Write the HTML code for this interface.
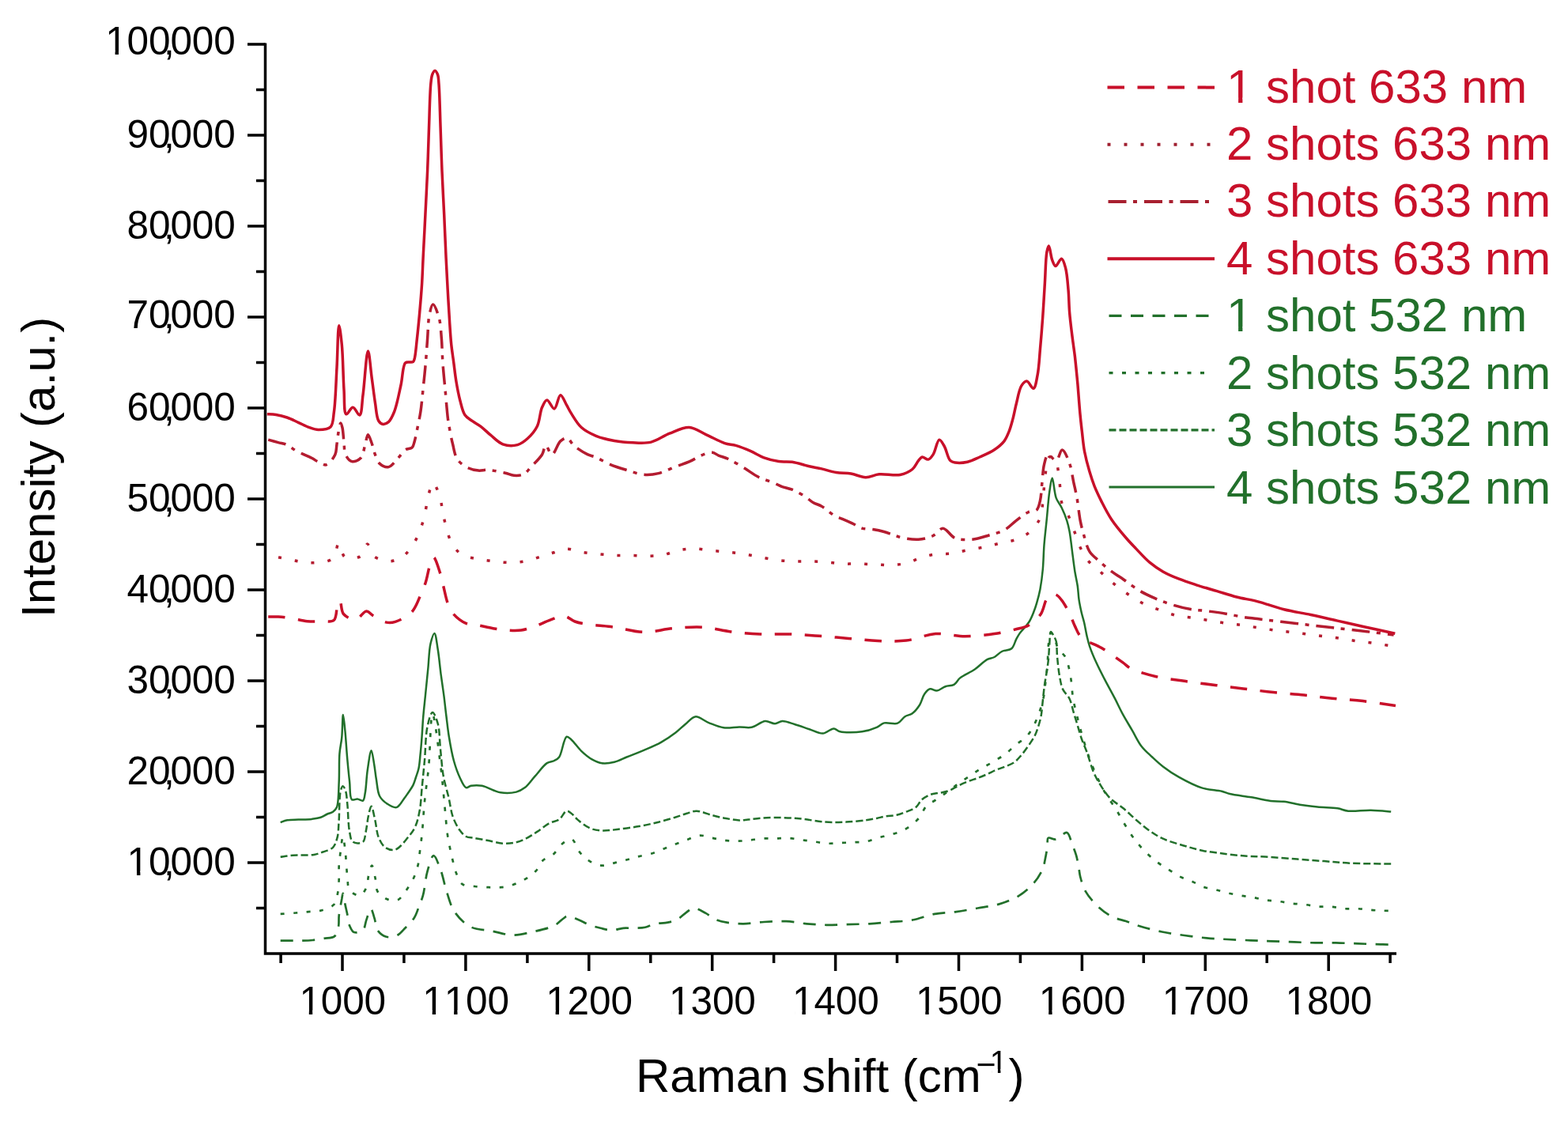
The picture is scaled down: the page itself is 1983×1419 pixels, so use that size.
<!DOCTYPE html>
<html><head><meta charset="utf-8"><title>Raman spectra</title>
<style>html,body{margin:0;padding:0;background:#fff;}svg{display:block;}</style>
</head><body>
<svg width="1983" height="1419" viewBox="0 0 1983 1419">
<rect width="100%" height="100%" fill="#fff"/>
<path d="M354.7,1189.7 C357.1,1189.7 364.2,1189.7 368.8,1189.7 C373.1,1189.7 377.2,1189.8 381.5,1189.7 C386.1,1189.6 390.9,1189.5 395.6,1189.0 C400.3,1188.5 405.1,1187.7 409.7,1186.9 C414.2,1186.1 420.0,1186.6 423.1,1184.1 C426.1,1181.6 427.1,1176.3 428.0,1172.1 C429.0,1167.7 428.1,1163.2 428.7,1158.0 C429.4,1151.6 431.3,1142.0 432.3,1136.8 C432.8,1133.8 433.2,1129.8 433.7,1129.8 C434.5,1129.8 435.5,1139.3 436.5,1143.9 C437.4,1148.2 438.4,1152.3 439.3,1156.6 C440.3,1161.2 440.4,1166.7 442.1,1170.7 C443.5,1174.0 445.1,1178.1 447.8,1179.1 C450.7,1180.2 456.4,1178.7 459.0,1176.3 C461.8,1173.7 461.7,1167.9 463.3,1163.6 C465.0,1159.0 467.1,1149.5 468.9,1149.5 C470.6,1149.5 472.4,1157.8 473.8,1162.2 C475.2,1166.7 474.8,1172.5 477.3,1176.3 C479.8,1180.0 484.5,1183.7 488.6,1184.8 C492.5,1185.9 497.4,1185.1 501.3,1183.4 C505.5,1181.6 508.9,1177.2 512.6,1173.5 C516.5,1169.6 521.1,1165.2 524.0,1160.5 C526.8,1156.0 528.1,1150.8 530.0,1146.0 C531.8,1141.3 533.5,1137.7 535.0,1132.1 C537.2,1124.1 538.0,1111.1 540.5,1102.2 C542.6,1094.8 545.5,1082.3 548.3,1082.2 C551.0,1082.1 554.6,1093.3 557.2,1100.0 C560.3,1108.1 561.9,1118.7 564.9,1127.7 C567.8,1136.5 569.9,1145.8 574.9,1153.2 C579.9,1160.6 587.0,1168.0 594.9,1172.1 C602.9,1176.2 613.6,1175.8 622.6,1177.6 C631.3,1179.3 639.5,1182.5 648.1,1182.6 C656.9,1182.7 666.0,1180.2 674.8,1178.2 C683.7,1176.2 694.8,1173.8 701.4,1170.4 C706.0,1168.0 708.9,1164.1 712.0,1162.0 C714.2,1160.5 715.5,1158.7 718.0,1158.5 C721.6,1158.2 727.0,1161.4 731.6,1163.2 C736.4,1165.1 741.3,1168.1 746.1,1169.9 C750.6,1171.6 754.9,1172.7 759.4,1173.8 C764.1,1174.9 769.0,1176.5 773.8,1176.5 C778.6,1176.5 783.5,1174.2 788.2,1173.8 C792.7,1173.4 797.0,1174.0 801.5,1173.8 C806.2,1173.6 811.4,1173.7 816.0,1172.7 C820.3,1171.8 824.0,1169.1 828.2,1168.2 C832.5,1167.3 837.0,1167.9 841.5,1167.1 C846.2,1166.3 851.5,1165.4 855.9,1163.2 C860.4,1161.0 864.3,1156.4 868.1,1153.8 C871.2,1151.7 873.6,1148.8 877.0,1148.5 C881.4,1148.2 887.7,1152.4 892.5,1154.9 C896.9,1157.2 900.3,1160.8 904.7,1162.7 C909.2,1164.7 913.8,1165.7 919.1,1166.6 C925.3,1167.7 932.5,1168.3 939.8,1168.3 C948.1,1168.3 957.3,1166.5 966.2,1166.0 C975.4,1165.5 985.0,1164.8 994.1,1165.2 C1003.0,1165.6 1011.8,1167.5 1020.4,1168.3 C1028.8,1169.0 1036.8,1169.7 1045.2,1169.8 C1053.9,1169.9 1062.7,1169.3 1071.6,1169.1 C1080.8,1168.8 1090.2,1168.8 1099.5,1168.3 C1108.8,1167.8 1118.2,1166.8 1127.4,1166.0 C1136.4,1165.2 1145.1,1165.1 1154.0,1163.5 C1163.3,1161.8 1172.8,1157.5 1182.2,1155.8 C1191.3,1154.1 1200.4,1154.3 1209.4,1153.1 C1218.5,1151.9 1227.6,1150.1 1236.6,1148.5 C1245.5,1146.9 1254.5,1146.1 1263.0,1143.6 C1271.5,1141.1 1280.1,1138.0 1287.5,1133.6 C1294.7,1129.2 1301.7,1123.4 1307.0,1117.3 C1312.0,1111.7 1316.5,1104.1 1318.8,1098.7 C1320.4,1094.9 1320.6,1092.4 1321.4,1088.5 C1322.5,1083.2 1324.0,1075.2 1324.7,1069.9 C1325.2,1066.0 1323.8,1061.2 1325.6,1059.8 C1327.4,1058.4 1332.2,1062.2 1335.7,1061.5 C1340.1,1060.6 1345.9,1052.0 1349.3,1053.0 C1352.7,1054.1 1354.0,1063.2 1356.0,1068.2 C1357.9,1072.8 1359.7,1077.0 1361.1,1081.8 C1362.6,1087.1 1363.6,1093.8 1364.5,1098.7 C1365.2,1102.5 1365.2,1105.0 1366.2,1108.8 C1367.6,1114.1 1369.4,1121.4 1372.9,1127.4 C1376.9,1134.4 1383.7,1142.1 1389.9,1147.7 C1395.5,1152.8 1401.9,1157.1 1408.0,1160.0 C1413.3,1162.6 1418.5,1163.2 1424.0,1165.0 C1429.8,1167.0 1435.3,1169.4 1442.0,1171.5 C1450.2,1174.0 1460.3,1176.6 1469.6,1178.5 C1478.9,1180.4 1488.4,1181.7 1497.8,1183.0 C1507.2,1184.3 1516.8,1185.5 1526.0,1186.3 C1534.8,1187.1 1543.1,1187.5 1552.0,1188.0 C1561.5,1188.5 1572.0,1188.9 1581.5,1189.3 C1590.5,1189.7 1598.7,1190.0 1607.7,1190.3 C1617.2,1190.7 1627.5,1191.0 1637.0,1191.4 C1645.9,1191.7 1654.3,1192.2 1663.0,1192.4 C1671.8,1192.6 1680.5,1192.2 1689.5,1192.4 C1698.8,1192.6 1708.3,1193.1 1717.7,1193.4 C1727.1,1193.7 1738.2,1194.2 1746.0,1194.4 C1751.5,1194.5 1757.7,1194.6 1760.0,1194.6" fill="none" stroke="#22702b" stroke-width="2.7" stroke-linejoin="round" stroke-linecap="butt" stroke-dasharray="16 11.5"/>
<path d="M354.7,1155.9 C358.0,1155.7 368.3,1155.0 374.5,1154.5 C380.0,1154.1 384.8,1153.6 390.0,1153.1 C395.2,1152.6 400.3,1153.0 405.5,1151.6 C411.1,1150.1 418.8,1148.0 422.4,1143.9 C425.8,1140.1 426.2,1133.7 427.3,1128.4 C428.4,1122.9 428.5,1117.1 428.7,1111.5 C428.9,1105.9 428.4,1100.3 428.7,1094.6 C429.0,1088.6 430.0,1082.3 430.8,1076.2 C431.6,1070.1 432.7,1058.0 433.7,1058.0 C434.6,1058.0 435.7,1068.4 436.5,1075.0 C437.7,1084.3 438.1,1099.4 439.3,1108.7 C440.1,1115.3 439.3,1121.6 442.1,1125.6 C444.7,1129.3 451.2,1133.2 454.8,1132.6 C458.2,1132.0 461.4,1126.7 463.3,1122.8 C465.4,1118.5 464.9,1112.2 466.1,1107.3 C467.2,1102.8 469.0,1094.6 470.3,1094.6 C471.8,1094.6 473.3,1104.8 474.5,1110.1 C475.7,1115.6 474.8,1122.5 477.3,1127.0 C479.7,1131.2 484.3,1134.9 488.6,1136.8 C492.8,1138.6 498.6,1139.9 502.7,1138.3 C507.2,1136.6 510.6,1130.3 514.0,1125.6 C517.7,1120.5 521.4,1114.4 523.9,1108.7 C526.2,1103.5 527.6,1098.6 528.8,1093.2 C530.1,1087.4 530.4,1081.2 531.2,1074.9 C532.0,1068.3 532.9,1062.6 533.7,1054.6 C534.9,1043.1 535.7,1026.4 537.1,1012.3 C538.5,998.2 540.6,985.7 542.1,970.0 C544.0,950.2 544.5,903.1 547.0,903.0 C549.6,902.9 554.7,949.2 557.4,970.0 C559.7,988.0 561.0,1005.5 562.5,1020.7 C563.7,1033.1 564.5,1045.0 565.8,1054.6 C566.8,1061.7 568.0,1067.3 569.2,1073.2 C570.3,1078.5 571.3,1083.3 572.6,1088.4 C573.9,1093.7 575.0,1099.4 577.1,1104.4 C579.1,1109.3 581.0,1115.5 584.9,1118.3 C588.8,1121.0 595.0,1120.4 600.4,1121.0 C606.1,1121.7 612.5,1122.0 618.2,1122.2 C623.5,1122.4 628.6,1122.8 633.7,1122.2 C638.9,1121.6 644.2,1120.5 649.2,1118.8 C654.2,1117.1 659.0,1115.0 663.7,1112.2 C668.7,1109.2 674.1,1105.3 678.1,1101.1 C681.8,1097.1 683.3,1091.2 687.0,1087.8 C690.4,1084.6 695.5,1084.2 699.2,1081.1 C703.3,1077.7 705.9,1071.4 710.0,1068.0 C713.8,1064.9 719.1,1060.2 722.8,1061.2 C727.2,1062.4 729.5,1073.6 733.6,1078.4 C737.3,1082.8 741.3,1086.6 746.0,1089.3 C750.6,1092.0 756.2,1094.4 761.5,1094.7 C767.0,1095.0 773.0,1092.2 778.6,1090.9 C783.9,1089.6 789.1,1088.3 794.1,1087.0 C798.9,1085.7 803.1,1084.3 808.0,1083.1 C813.4,1081.7 819.6,1080.9 825.1,1079.2 C830.5,1077.5 835.6,1075.0 840.6,1073.0 C845.4,1071.1 849.9,1069.4 854.5,1067.6 C859.2,1065.8 863.6,1064.0 868.5,1062.2 C873.7,1060.3 879.3,1057.1 884.8,1056.7 C890.2,1056.3 895.7,1058.8 901.0,1059.8 C906.3,1060.8 911.4,1062.3 916.6,1062.9 C921.8,1063.5 927.1,1063.7 932.1,1063.7 C936.9,1063.7 941.1,1063.4 946.0,1062.9 C951.4,1062.4 957.4,1060.9 963.1,1060.5 C968.8,1060.1 974.6,1060.6 980.1,1060.5 C985.4,1060.4 990.3,1059.6 995.6,1059.8 C1001.2,1060.0 1007.0,1061.3 1012.7,1062.1 C1018.4,1062.9 1024.0,1063.6 1029.7,1064.4 C1035.4,1065.2 1041.1,1066.4 1046.8,1066.7 C1052.5,1067.0 1058.1,1066.2 1063.8,1066.0 C1069.5,1065.7 1075.5,1065.5 1080.9,1065.2 C1085.8,1064.9 1090.3,1065.3 1095.0,1064.4 C1099.9,1063.5 1104.6,1061.2 1109.5,1059.8 C1114.3,1058.4 1119.2,1057.5 1124.0,1056.2 C1128.9,1054.8 1134.1,1053.6 1138.6,1051.7 C1142.8,1049.9 1146.6,1048.1 1150.4,1045.3 C1154.8,1042.2 1159.6,1037.8 1163.1,1033.5 C1166.5,1029.3 1167.7,1023.6 1171.2,1019.9 C1174.7,1016.2 1179.5,1014.4 1184.0,1011.3 C1189.1,1007.8 1195.1,1003.6 1200.0,1000.0 C1204.3,996.9 1207.8,994.0 1212.0,991.0 C1216.4,987.9 1221.1,984.9 1225.7,981.8 C1230.5,978.6 1235.3,975.3 1240.2,972.3 C1245.0,969.4 1249.8,967.1 1254.8,964.1 C1260.2,960.9 1266.6,957.3 1271.6,953.5 C1276.2,950.1 1279.6,946.2 1284.0,942.6 C1288.6,938.7 1294.7,935.5 1298.7,931.0 C1302.6,926.7 1305.3,921.5 1308.0,916.3 C1310.8,910.9 1313.0,905.0 1315.0,899.2 C1316.9,893.6 1318.5,887.9 1319.7,882.2 C1320.9,876.5 1321.2,871.3 1322.0,865.0 C1322.9,857.4 1324.0,848.3 1324.7,840.0 C1325.4,831.7 1325.1,822.2 1326.0,815.0 C1326.7,809.3 1327.4,800.3 1329.0,800.0 C1330.3,799.8 1332.6,805.0 1334.0,808.0 C1335.7,811.5 1335.9,816.3 1338.0,820.0 C1340.3,824.1 1345.2,826.9 1347.6,831.3 C1350.2,836.1 1351.3,842.5 1352.6,848.2 C1353.9,853.8 1354.5,859.4 1355.2,865.1 C1355.9,870.7 1355.9,876.0 1356.9,882.1 C1358.0,889.2 1360.0,896.9 1362.0,905.0 C1364.3,914.3 1367.0,925.0 1370.0,935.0 C1373.0,945.0 1376.0,954.9 1380.0,965.0 C1384.3,975.8 1389.5,987.8 1395.0,998.0 C1400.1,1007.5 1407.2,1016.8 1411.8,1024.3 C1415.2,1029.9 1417.5,1034.2 1420.3,1039.0 C1423.0,1043.6 1425.7,1048.0 1428.5,1052.3 C1431.2,1056.4 1433.7,1060.1 1436.9,1064.1 C1440.4,1068.5 1444.6,1073.4 1448.8,1077.6 C1453.0,1081.8 1457.5,1085.8 1462.3,1089.5 C1467.1,1093.2 1472.4,1096.3 1477.5,1099.6 C1482.5,1102.8 1487.5,1106.3 1492.7,1108.9 C1497.7,1111.4 1503.1,1112.7 1508.0,1114.9 C1512.7,1117.0 1516.8,1119.9 1521.5,1121.6 C1526.3,1123.3 1531.6,1123.7 1536.7,1125.0 C1541.8,1126.3 1546.8,1128.0 1552.0,1129.2 C1557.5,1130.5 1563.3,1131.6 1568.9,1132.6 C1574.5,1133.6 1580.4,1134.2 1585.8,1135.2 C1590.8,1136.1 1595.2,1137.4 1600.2,1138.2 C1605.6,1139.0 1611.6,1139.2 1617.1,1139.9 C1622.3,1140.6 1627.0,1141.7 1632.3,1142.4 C1638.2,1143.2 1644.9,1143.4 1650.9,1144.1 C1656.5,1144.8 1661.6,1146.2 1667.0,1146.6 C1672.3,1147.0 1677.6,1146.2 1683.0,1146.6 C1688.6,1147.0 1694.3,1148.8 1700.0,1149.2 C1705.6,1149.6 1711.3,1148.9 1716.9,1149.2 C1722.5,1149.5 1728.3,1150.5 1733.8,1150.9 C1739.0,1151.3 1744.3,1151.5 1749.0,1151.7 C1753.0,1151.9 1758.2,1151.9 1760.0,1152.0" fill="none" stroke="#22702b" stroke-width="2.7" stroke-linejoin="round" stroke-linecap="butt" stroke-dasharray="5 11.5"/>
<path d="M354.7,1083.8 C357.3,1083.5 364.3,1082.2 370.2,1081.7 C377.9,1081.1 390.0,1082.1 397.0,1081.0 C401.6,1080.2 404.5,1078.9 408.3,1077.5 C412.5,1075.9 417.9,1074.9 421.0,1071.8 C424.0,1068.7 425.3,1063.9 426.6,1059.1 C428.1,1053.5 427.9,1047.5 428.5,1040.0 C429.4,1029.1 428.8,1007.1 430.8,999.9 C431.6,997.1 432.7,994.3 433.7,994.3 C434.7,994.3 436.1,997.5 437.0,1000.0 C438.4,1004.0 438.6,1010.2 439.3,1016.8 C440.3,1026.4 440.3,1043.4 442.1,1052.1 C443.2,1057.5 443.4,1062.7 446.3,1064.8 C449.1,1066.8 456.3,1066.9 459.0,1064.8 C461.8,1062.7 461.5,1056.9 462.6,1052.1 C464.0,1046.0 464.7,1036.8 466.1,1030.9 C467.1,1026.5 468.4,1019.7 469.6,1019.7 C471.1,1019.7 473.0,1031.7 474.5,1038.0 C476.1,1044.8 476.3,1053.2 478.8,1059.1 C480.9,1064.1 483.5,1069.2 487.2,1071.8 C490.6,1074.2 495.7,1075.8 499.9,1074.6 C505.6,1073.0 512.3,1063.3 516.8,1057.9 C520.4,1053.6 523.0,1050.2 525.3,1045.2 C528.0,1039.2 529.5,1031.7 530.9,1024.1 C532.5,1015.3 532.7,1005.4 533.7,995.4 C534.8,984.6 535.9,973.4 537.0,961.5 C538.2,948.1 538.1,930.0 540.5,919.0 C542.1,911.6 544.7,901.1 547.0,901.0 C549.1,900.9 552.2,909.6 553.8,915.5 C556.1,923.7 555.8,935.8 556.9,946.5 C558.1,957.9 558.9,970.9 560.8,981.8 C562.5,991.5 565.5,1000.2 567.5,1008.9 C569.4,1017.0 570.1,1025.5 572.6,1032.6 C574.8,1038.9 577.9,1045.0 581.1,1049.5 C583.7,1053.1 586.3,1056.3 589.5,1058.0 C592.3,1059.5 595.2,1059.1 598.7,1059.7 C603.5,1060.6 609.9,1061.7 615.8,1062.8 C622.2,1064.0 629.8,1066.3 635.9,1066.7 C641.0,1067.0 645.3,1066.8 649.9,1065.9 C654.6,1065.0 659.2,1063.3 663.8,1061.2 C669.0,1058.8 674.2,1055.2 679.3,1051.9 C684.5,1048.5 689.8,1043.8 694.8,1041.1 C699.0,1038.9 703.6,1038.9 707.2,1036.4 C710.9,1033.8 713.4,1026.1 716.6,1025.6 C719.1,1025.2 722.0,1028.4 724.3,1030.2 C726.6,1032.0 727.8,1034.3 730.5,1036.6 C734.4,1039.9 740.6,1045.1 746.0,1047.4 C751.0,1049.5 756.1,1050.2 761.5,1050.5 C767.4,1050.8 773.3,1049.8 780.1,1049.0 C788.5,1048.1 799.0,1046.7 808.0,1045.1 C816.5,1043.6 824.8,1041.7 832.8,1039.7 C840.3,1037.8 848.1,1035.5 854.5,1033.5 C859.7,1031.9 863.9,1030.1 868.5,1028.8 C872.7,1027.6 876.3,1025.6 880.9,1025.7 C886.8,1025.8 894.6,1029.6 901.0,1031.2 C906.9,1032.7 912.4,1034.0 918.1,1035.0 C923.7,1036.0 930.0,1037.3 935.0,1037.4 C939.1,1037.5 941.7,1036.9 946.0,1036.5 C952.3,1035.9 960.5,1034.5 969.3,1034.2 C980.6,1033.8 995.4,1034.1 1008.0,1035.0 C1020.2,1035.9 1032.7,1038.9 1043.7,1039.6 C1053.1,1040.2 1061.4,1040.0 1070.0,1039.6 C1078.4,1039.2 1087.9,1038.1 1095.0,1037.2 C1100.2,1036.5 1104.2,1035.8 1108.6,1034.9 C1112.7,1034.1 1116.3,1032.9 1120.4,1032.2 C1124.8,1031.5 1129.7,1031.8 1134.0,1030.8 C1138.1,1029.9 1141.8,1028.3 1145.8,1026.7 C1150.0,1025.0 1155.1,1023.5 1158.5,1020.8 C1161.6,1018.3 1162.8,1013.9 1165.8,1011.3 C1168.9,1008.6 1172.9,1006.3 1176.7,1004.9 C1180.4,1003.5 1184.6,1003.5 1188.5,1002.7 C1192.4,1001.9 1196.5,1001.4 1200.3,999.9 C1204.3,998.4 1208.1,995.6 1212.1,993.6 C1216.2,991.6 1220.5,989.8 1224.8,988.1 C1229.0,986.4 1233.4,985.2 1237.5,983.6 C1241.3,982.1 1244.7,980.7 1248.4,979.1 C1252.3,977.4 1256.3,975.2 1260.2,973.6 C1263.9,972.1 1267.5,971.0 1271.1,969.5 C1274.9,967.9 1279.0,966.7 1282.4,964.3 C1285.9,961.9 1288.7,958.4 1291.7,955.0 C1294.9,951.3 1298.1,946.8 1301.0,942.6 C1303.8,938.5 1306.7,934.4 1308.8,930.2 C1310.8,926.2 1312.1,922.0 1313.4,917.8 C1314.7,913.7 1315.8,909.6 1316.6,905.4 C1317.4,901.3 1317.6,897.4 1318.1,893.0 C1318.6,888.1 1319.2,882.4 1319.7,877.5 C1320.2,873.1 1320.6,869.3 1321.2,865.1 C1321.8,860.6 1322.8,856.1 1323.5,851.2 C1324.3,845.8 1325.3,840.0 1325.9,834.1 C1326.5,827.9 1326.7,821.1 1327.2,815.0 C1327.7,809.4 1327.6,799.3 1329.0,799.0 C1330.0,798.8 1331.9,803.0 1333.0,805.0 C1334.1,807.0 1335.0,808.4 1335.7,811.0 C1336.8,815.5 1336.4,823.2 1337.0,830.0 C1337.7,837.8 1338.6,847.5 1340.0,855.0 C1341.1,861.2 1341.9,867.0 1344.2,871.9 C1346.3,876.4 1350.4,879.2 1352.6,883.7 C1355.0,888.7 1356.0,895.0 1357.7,900.7 C1359.4,906.3 1361.1,912.0 1362.8,917.6 C1364.5,923.2 1366.0,928.9 1367.9,934.5 C1369.9,940.2 1372.3,945.2 1374.6,951.4 C1377.4,959.0 1380.1,969.8 1383.1,976.8 C1385.3,982.0 1387.1,985.3 1390.0,990.0 C1393.6,995.9 1398.2,1003.6 1403.4,1009.0 C1408.4,1014.2 1414.8,1017.4 1420.3,1022.0 C1426.0,1026.7 1431.3,1032.2 1436.9,1037.0 C1442.4,1041.7 1448.0,1046.6 1453.8,1050.6 C1459.3,1054.4 1464.4,1057.8 1470.8,1060.7 C1478.2,1064.1 1487.6,1066.7 1496.1,1069.2 C1504.5,1071.7 1512.6,1074.1 1521.5,1075.9 C1531.1,1077.8 1542.3,1079.0 1552.0,1080.2 C1560.8,1081.3 1569.1,1082.1 1577.3,1082.7 C1585.1,1083.2 1591.3,1083.1 1600.0,1083.6 C1611.6,1084.3 1627.8,1085.6 1640.8,1086.6 C1652.6,1087.5 1663.3,1088.3 1674.6,1089.1 C1685.9,1090.0 1696.0,1091.1 1708.4,1091.7 C1723.6,1092.4 1750.7,1092.4 1759.2,1092.5" fill="none" stroke="#22702b" stroke-width="2.5" stroke-linejoin="round" stroke-linecap="butt" stroke-dasharray="9 4"/>
<path d="M354.7,1040.1 C356.1,1039.6 360.0,1037.9 363.2,1037.3 C367.3,1036.5 372.4,1036.8 377.3,1036.6 C382.7,1036.4 389.1,1036.5 394.2,1035.9 C398.4,1035.4 402.1,1035.0 405.5,1033.8 C408.6,1032.7 411.2,1030.7 413.9,1029.5 C416.3,1028.4 419.0,1028.1 421.0,1026.7 C423.0,1025.3 424.7,1024.0 425.9,1021.1 C428.5,1015.0 428.1,999.7 428.7,988.7 C429.3,977.2 428.6,963.6 429.4,953.4 C430.0,945.4 431.6,939.9 432.3,932.3 C433.1,923.6 433.1,904.1 433.9,904.1 C434.6,904.1 435.7,917.3 436.5,925.2 C437.5,935.5 438.3,949.4 439.3,960.5 C440.2,970.4 441.1,979.8 442.1,988.7 C443.0,996.6 441.9,1008.8 444.9,1011.2 C446.6,1012.6 449.7,1010.3 452.0,1010.5 C454.4,1010.7 457.4,1013.5 459.0,1012.6 C460.9,1011.5 461.0,1007.0 461.8,1002.8 C463.1,995.9 463.4,983.7 464.7,974.6 C466.0,965.9 468.1,949.2 469.6,949.2 C470.8,949.2 472.1,960.2 473.1,966.1 C474.2,972.4 474.8,979.1 475.9,985.8 C477.1,992.8 477.3,1001.6 480.2,1007.0 C482.5,1011.3 486.3,1014.4 490.0,1016.8 C493.4,1019.0 497.9,1021.9 501.3,1021.1 C505.1,1020.2 508.6,1013.2 511.2,1009.8 C513.2,1007.3 514.3,1005.5 516.0,1003.0 C518.0,1000.0 520.8,996.4 522.5,992.9 C524.1,989.7 524.9,986.4 526.0,983.0 C527.2,979.4 528.6,975.9 529.5,971.7 C530.6,966.7 530.9,961.1 531.5,955.0 C532.3,947.7 533.0,939.0 533.6,931.0 C534.2,923.0 534.5,915.5 535.2,907.0 C536.0,897.3 537.3,886.3 538.3,876.0 C539.3,865.7 540.4,855.3 541.4,845.0 C542.4,834.7 542.6,822.0 544.5,814.0 C545.8,808.6 548.0,800.8 549.4,800.9 C551.2,801.0 552.5,814.1 553.8,821.8 C555.3,831.1 556.3,842.7 557.6,852.8 C558.9,862.4 560.3,871.5 561.5,880.7 C562.6,889.6 563.5,898.4 564.6,907.0 C565.6,915.2 566.3,922.5 567.7,931.0 C569.3,940.7 571.3,952.7 573.9,962.0 C576.1,970.0 578.8,977.6 581.7,983.7 C584.0,988.6 586.5,995.1 589.4,996.1 C591.3,996.8 593.1,994.3 595.6,993.8 C599.3,993.1 605.0,992.9 609.6,993.8 C614.3,994.7 619.3,997.7 623.5,999.2 C626.9,1000.4 629.0,1001.8 632.8,1002.3 C638.2,1003.1 647.4,1003.0 653.0,1001.6 C657.3,1000.5 660.3,998.8 663.8,996.1 C668.1,992.8 671.8,987.1 676.2,982.2 C681.1,976.8 686.8,968.3 691.7,965.1 C694.9,963.0 698.3,963.4 701.0,962.0 C703.4,960.8 705.3,960.0 707.2,957.4 C710.8,952.6 712.9,933.1 716.6,931.8 C718.5,931.1 720.5,933.8 722.8,935.7 C726.4,938.8 730.7,945.6 735.2,949.8 C739.5,953.9 744.4,958.0 749.1,960.6 C753.2,962.9 757.1,964.7 761.5,965.3 C766.3,965.9 771.9,965.0 777.0,963.7 C782.3,962.4 786.8,959.8 792.5,957.5 C799.5,954.7 808.4,951.4 815.8,948.2 C822.8,945.2 829.5,942.5 835.9,938.9 C842.4,935.3 849.0,930.7 854.5,926.5 C859.2,922.9 862.7,919.1 866.9,915.7 C871.0,912.4 874.7,906.9 879.3,906.4 C884.4,905.8 890.5,911.8 896.4,914.1 C902.4,916.4 908.6,919.4 915.0,920.3 C921.5,921.2 928.7,919.6 935.0,919.5 C940.5,919.4 945.5,920.9 950.7,919.8 C956.4,918.6 962.4,912.6 967.7,912.1 C972.1,911.7 976.3,915.3 980.1,915.2 C983.4,915.1 985.9,912.2 989.4,912.1 C993.9,911.9 999.5,914.4 1004.9,916.0 C1010.8,917.7 1017.4,920.2 1023.5,922.2 C1029.3,924.1 1035.2,927.9 1040.6,927.6 C1045.5,927.3 1050.5,921.3 1054.5,921.4 C1057.5,921.5 1058.8,924.5 1062.3,925.3 C1068.6,926.8 1081.9,926.5 1090.2,925.3 C1097.1,924.3 1103.8,922.0 1108.8,919.8 C1112.5,918.2 1114.4,915.4 1118.1,914.4 C1122.8,913.2 1130.6,916.4 1135.2,914.7 C1139.1,913.2 1141.2,908.3 1144.5,906.2 C1147.4,904.3 1150.9,904.4 1153.8,902.3 C1157.2,899.8 1160.5,895.5 1163.1,891.5 C1165.8,887.3 1166.7,881.0 1169.3,877.5 C1171.3,874.7 1173.6,871.9 1176.2,871.3 C1178.8,870.7 1181.8,873.9 1184.8,873.6 C1188.3,873.2 1191.9,869.5 1195.6,868.2 C1199.1,867.0 1203.4,867.7 1206.5,865.9 C1209.6,864.1 1210.8,860.2 1214.2,857.4 C1218.8,853.6 1227.0,850.5 1232.8,846.5 C1238.3,842.7 1243.6,836.7 1248.3,834.1 C1251.6,832.3 1254.6,832.6 1257.6,831.0 C1260.8,829.3 1263.4,825.8 1266.9,824.0 C1270.6,822.1 1276.2,822.8 1279.3,820.2 C1282.5,817.5 1283.5,811.4 1285.5,807.8 C1287.1,805.0 1288.4,802.7 1290.0,800.4 C1291.6,798.3 1293.3,796.7 1295.1,794.5 C1297.2,791.9 1299.9,789.1 1301.8,786.0 C1303.8,782.7 1305.4,778.8 1306.9,775.0 C1308.5,771.0 1309.9,766.9 1311.2,762.3 C1312.7,757.1 1314.2,751.6 1315.4,745.4 C1316.8,737.8 1318.0,728.9 1318.8,720.0 C1319.7,710.2 1319.7,699.6 1320.5,689.1 C1321.4,678.1 1322.8,666.6 1323.9,655.3 C1325.0,644.0 1325.9,630.8 1327.3,621.5 C1328.3,614.9 1329.5,604.6 1330.7,604.6 C1332.2,604.6 1333.2,623.2 1335.7,629.9 C1337.5,634.8 1340.4,637.4 1342.5,641.8 C1345.0,646.9 1347.6,653.3 1349.3,658.7 C1350.8,663.4 1351.6,667.0 1352.6,672.2 C1353.9,679.3 1354.9,689.1 1356.0,697.6 C1357.1,706.1 1358.2,715.3 1359.4,723.0 C1360.5,729.6 1361.9,735.2 1362.8,741.2 C1363.6,746.9 1363.7,752.5 1364.5,758.1 C1365.3,763.8 1366.6,769.8 1367.8,775.0 C1368.9,779.6 1370.1,783.1 1371.2,787.7 C1372.4,792.9 1373.4,799.4 1374.6,804.6 C1375.7,809.2 1376.4,812.6 1378.0,817.3 C1380.1,823.4 1383.4,831.3 1386.5,838.1 C1389.6,845.0 1392.9,851.3 1396.6,858.4 C1400.7,866.4 1406.0,875.8 1410.1,883.7 C1413.7,890.7 1416.4,896.8 1420.0,903.4 C1423.7,910.2 1427.9,916.9 1431.8,923.7 C1435.8,930.5 1439.2,938.2 1443.7,944.0 C1447.8,949.3 1452.6,953.2 1457.2,957.5 C1461.7,961.7 1465.7,965.5 1470.8,969.4 C1476.8,974.0 1483.6,978.7 1491.1,982.9 C1499.7,987.7 1510.3,993.4 1519.8,996.4 C1528.3,999.1 1538.7,999.1 1545.2,1000.7 C1549.4,1001.7 1551.1,1003.0 1555.3,1004.0 C1562.1,1005.6 1573.6,1006.8 1582.4,1008.3 C1590.8,1009.8 1599.5,1012.1 1606.9,1013.0 C1613.0,1013.7 1617.8,1013.1 1623.8,1013.8 C1630.7,1014.6 1638.6,1017.0 1645.8,1018.1 C1652.7,1019.2 1658.9,1019.9 1666.1,1020.6 C1674.1,1021.4 1684.4,1021.2 1691.5,1022.3 C1696.7,1023.1 1699.6,1025.1 1705.0,1025.7 C1712.8,1026.5 1724.5,1024.6 1733.8,1024.8 C1742.5,1025.0 1755.0,1026.2 1759.2,1026.5" fill="none" stroke="#22702b" stroke-width="2.5" stroke-linejoin="round" stroke-linecap="butt"/>
<path d="M339.2,780.0 C341.3,780.0 347.3,779.7 351.9,780.0 C357.5,780.3 364.1,781.3 370.2,782.2 C376.3,783.2 382.3,785.1 388.6,785.7 C395.0,786.3 402.3,786.0 408.3,785.7 C413.4,785.4 419.2,787.1 422.4,784.3 C426.4,780.7 425.2,765.9 427.3,762.4 C428.1,761.0 429.2,759.8 430.0,760.0 C431.8,760.5 431.1,772.6 434.4,776.5 C437.7,780.4 445.1,784.2 449.9,783.6 C454.7,783.0 459.3,773.2 463.3,773.0 C466.4,772.9 468.3,776.6 471.7,778.6 C476.3,781.3 483.4,786.0 488.6,787.1 C492.6,787.9 495.7,787.7 499.9,786.4 C506.1,784.5 515.6,779.5 521.0,773.7 C526.3,768.0 529.1,758.7 532.1,752.0 C534.6,746.5 536.5,742.2 538.3,736.5 C540.4,729.9 541.7,720.6 543.7,714.8 C545.1,710.7 546.6,704.7 548.3,704.7 C550.8,704.7 554.8,719.2 556.9,725.7 C558.7,731.2 559.3,735.6 560.7,741.2 C562.4,747.8 563.9,756.8 566.2,762.9 C568.0,767.7 569.2,771.4 572.4,775.3 C576.4,780.1 583.5,785.9 589.4,788.4 C594.4,790.6 599.5,789.8 604.9,790.8 C610.8,791.9 617.4,793.7 623.5,794.7 C629.3,795.7 634.8,796.6 640.6,797.0 C646.7,797.4 653.2,797.8 659.2,797.0 C665.0,796.2 670.4,794.3 676.2,792.3 C682.7,790.0 689.9,786.1 696.4,783.8 C702.2,781.8 708.1,778.6 713.4,779.1 C718.3,779.6 722.3,784.3 727.0,786.0 C731.6,787.7 735.5,788.3 741.4,789.3 C750.6,790.9 765.0,791.5 777.0,793.2 C789.3,794.9 801.8,799.2 814.2,799.4 C826.6,799.6 839.0,795.7 851.4,794.7 C863.8,793.7 876.4,792.5 888.6,793.2 C900.7,793.9 912.2,797.4 924.3,798.9 C936.5,800.4 949.1,801.5 961.5,802.0 C973.9,802.5 986.3,801.6 998.7,802.0 C1011.1,802.4 1023.5,803.4 1035.9,804.3 C1048.3,805.2 1060.7,806.4 1073.1,807.4 C1085.5,808.4 1098.0,810.1 1110.3,810.5 C1122.3,810.9 1134.1,811.5 1146.0,810.1 C1158.4,808.6 1170.7,802.5 1183.2,801.6 C1195.5,800.7 1208.0,804.7 1220.4,804.7 C1232.8,804.7 1246.2,803.3 1257.6,801.6 C1267.5,800.1 1277.1,797.9 1285.0,795.8 C1291.1,794.2 1296.0,793.6 1301.0,790.7 C1306.5,787.5 1312.5,782.1 1316.2,776.7 C1319.7,771.5 1320.6,763.2 1323.0,758.9 C1324.6,756.1 1325.8,753.6 1328.0,752.5 C1330.2,751.4 1333.6,751.5 1336.0,752.5 C1338.5,753.5 1340.3,756.1 1342.5,758.9 C1345.8,763.0 1349.7,770.1 1352.6,775.8 C1355.3,781.1 1356.8,786.8 1359.4,791.9 C1361.9,796.9 1363.4,802.1 1367.8,806.3 C1373.5,811.8 1384.8,814.4 1393.2,819.5 C1402.2,824.9 1413.2,833.0 1420.0,837.9 C1424.2,840.9 1425.6,843.1 1430.2,845.5 C1437.7,849.3 1451.1,853.0 1462.3,855.7 C1474.1,858.5 1486.9,859.8 1499.5,861.6 C1512.3,863.5 1525.9,865.1 1538.4,866.7 C1550.1,868.2 1560.7,869.5 1572.3,870.9 C1584.6,872.4 1597.5,874.3 1610.3,875.6 C1623.2,877.0 1636.5,877.7 1649.2,879.0 C1661.3,880.3 1672.6,882.1 1684.7,883.3 C1697.4,884.6 1710.5,885.1 1723.6,886.6 C1737.2,888.1 1758.1,891.5 1765.0,892.5" fill="none" stroke="#c8102a" stroke-width="3.5" stroke-linejoin="round" stroke-linecap="butt" stroke-dasharray="21.5 16.5"/>
<path d="M352.0,705.0 C352.7,705.1 354.2,705.2 356.1,705.5 C360.3,706.2 369.7,708.6 376.6,709.7 C383.4,710.7 390.1,712.1 397.0,711.8 C404.2,711.5 414.4,710.6 418.9,707.6 C421.8,705.7 422.6,703.0 424.0,700.0 C425.7,696.4 426.6,687.3 428.0,687.2 C429.3,687.1 430.5,694.0 432.0,697.0 C433.4,699.8 433.9,703.3 436.5,704.8 C440.3,706.9 450.8,706.2 454.8,704.1 C457.6,702.6 458.4,699.6 460.0,697.0 C461.7,694.2 463.2,687.9 464.7,687.9 C466.2,687.9 467.4,694.2 469.0,697.0 C470.5,699.6 471.2,702.2 473.8,704.1 C477.9,707.1 487.4,709.9 493.6,709.7 C499.1,709.5 504.5,707.3 509.1,704.1 C514.2,700.6 518.7,694.4 522.5,688.6 C526.4,682.6 529.5,675.1 532.0,668.4 C534.4,662.1 536.0,655.9 537.5,649.4 C539.1,642.6 539.6,635.0 541.4,628.4 C543.1,622.2 545.2,610.8 547.6,610.6 C550.1,610.4 554.0,621.6 556.1,627.7 C558.2,634.0 558.6,641.1 560.0,647.8 C561.4,654.5 562.7,661.4 564.6,668.0 C566.5,674.6 568.2,681.7 571.6,687.4 C575.0,693.0 579.4,698.9 584.8,702.1 C590.1,705.3 597.1,705.4 603.4,706.7 C609.9,708.0 616.8,709.0 623.5,709.8 C630.2,710.6 636.9,711.4 643.7,711.4 C650.6,711.4 657.8,711.1 664.6,709.8 C671.5,708.5 678.6,705.5 684.8,703.6 C690.1,702.0 694.4,700.5 699.5,699.0 C705.0,697.4 710.6,694.5 716.6,694.3 C723.2,694.1 730.5,697.5 737.5,698.6 C744.4,699.7 751.5,700.2 758.4,700.9 C765.2,701.5 771.8,702.2 778.6,702.5 C785.5,702.8 792.5,702.4 799.5,702.5 C806.5,702.6 813.6,703.5 820.4,703.3 C826.8,703.1 832.7,702.9 839.0,701.7 C845.9,700.4 853.1,696.8 860.0,695.5 C866.5,694.3 872.7,693.9 879.3,694.0 C886.2,694.1 893.3,695.6 900.3,696.3 C907.3,697.0 914.4,697.6 921.2,698.3 C927.8,699.0 934.1,699.6 940.6,700.6 C947.3,701.6 953.9,703.2 960.7,704.5 C967.8,705.8 975.2,707.5 982.4,708.4 C989.4,709.3 996.5,709.7 1003.4,709.9 C1010.2,710.1 1016.8,709.8 1023.5,709.9 C1030.2,710.0 1037.0,710.2 1043.7,710.7 C1050.4,711.2 1057.0,712.6 1063.8,713.0 C1070.9,713.4 1078.4,712.9 1085.5,713.0 C1092.4,713.1 1099.0,713.6 1105.7,713.8 C1112.5,714.1 1119.3,714.7 1126.0,714.5 C1132.7,714.3 1139.5,713.9 1146.0,712.4 C1152.4,710.9 1158.3,707.3 1164.6,705.4 C1170.7,703.5 1176.8,701.7 1183.2,700.8 C1189.7,699.9 1196.6,700.9 1203.4,700.0 C1210.5,699.1 1217.9,696.7 1225.1,695.3 C1232.3,693.9 1239.9,693.0 1246.8,691.5 C1253.3,690.1 1259.1,688.3 1265.4,686.8 C1272.0,685.2 1279.3,684.6 1285.5,682.2 C1291.4,679.9 1297.1,677.2 1301.9,673.0 C1307.2,668.4 1312.6,661.8 1315.4,655.3 C1318.1,649.1 1317.8,642.7 1318.8,635.0 C1320.1,624.9 1320.4,610.3 1322.0,600.0 C1323.3,591.8 1323.8,579.9 1327.0,578.0 C1328.8,576.9 1332.1,578.0 1334.0,580.0 C1337.9,584.2 1338.6,600.4 1340.0,610.0 C1341.3,618.7 1340.3,627.5 1342.5,635.0 C1344.5,641.9 1349.0,647.2 1351.8,653.6 C1354.7,660.1 1356.9,667.3 1359.4,673.9 C1361.7,680.2 1363.4,686.6 1366.2,692.5 C1369.0,698.4 1372.0,704.2 1376.3,709.4 C1380.9,715.0 1387.7,719.7 1393.2,724.6 C1398.4,729.3 1403.1,733.8 1408.5,738.2 C1414.2,742.8 1420.5,747.5 1426.8,751.7 C1433.1,755.9 1439.4,760.1 1446.2,763.5 C1453.2,766.9 1461.0,769.4 1468.2,772.0 C1475.1,774.5 1481.7,777.1 1488.5,778.7 C1495.2,780.2 1502.1,780.3 1508.8,781.3 C1515.4,782.3 1521.7,783.5 1528.3,784.6 C1535.2,785.7 1542.3,787.0 1549.4,788.0 C1556.4,789.0 1563.6,789.6 1570.6,790.6 C1577.7,791.6 1584.7,792.9 1591.7,794.0 C1598.5,795.1 1605.2,796.1 1612.0,797.0 C1618.8,797.9 1625.5,798.7 1632.3,799.5 C1639.1,800.3 1645.8,801.2 1652.6,802.0 C1659.4,802.9 1666.1,803.7 1672.9,804.6 C1679.7,805.4 1686.4,806.1 1693.2,807.1 C1700.2,808.1 1707.3,809.5 1714.3,810.5 C1721.1,811.5 1727.8,812.0 1734.6,813.0 C1741.6,814.0 1752.3,815.8 1755.8,816.4" fill="none" stroke="#b41c30" stroke-width="3.5" stroke-linejoin="round" stroke-linecap="butt" stroke-dasharray="4 17"/>
<path d="M339.2,556.1 C341.3,556.7 347.8,558.5 351.9,559.6 C355.8,560.7 359.6,561.0 363.2,562.7 C367.1,564.5 370.1,567.7 374.5,570.2 C380.1,573.3 389.0,576.6 394.2,579.3 C397.7,581.1 399.7,582.9 402.7,584.3 C405.8,585.7 409.4,588.6 412.5,587.8 C416.5,586.8 421.6,579.7 423.8,575.1 C425.7,571.1 425.2,566.8 425.9,562.4 C426.6,557.5 427.1,551.7 428.0,546.9 C428.8,542.7 429.8,535.1 430.8,535.0 C431.5,535.0 432.4,538.4 433.0,541.0 C434.0,545.5 434.3,554.0 435.0,560.0 C435.6,565.3 435.1,570.9 437.0,575.0 C438.7,578.6 441.8,582.9 445.0,583.6 C448.2,584.3 453.5,582.2 456.2,579.3 C459.5,575.8 460.2,567.6 461.8,562.4 C463.2,557.9 464.0,549.8 465.4,549.7 C466.8,549.6 468.8,557.0 470.3,561.0 C471.9,565.4 472.8,570.7 474.5,575.1 C476.1,579.2 477.3,583.8 480.2,586.4 C483.0,588.9 487.8,591.3 491.4,590.6 C495.8,589.7 500.4,582.5 504.1,578.6 C507.3,575.3 509.4,570.9 512.6,568.8 C515.2,567.1 519.2,567.9 521.2,566.0 C523.1,564.2 523.3,561.3 524.3,557.9 C525.9,552.4 527.6,542.7 529.0,536.0 C530.2,530.3 531.1,526.2 532.0,520.0 C533.2,511.7 534.2,500.5 535.2,490.5 C536.3,480.3 537.4,469.8 538.3,459.5 C539.2,449.2 539.8,438.7 540.6,428.5 C541.4,418.6 541.3,407.0 542.9,399.1 C544.0,393.5 545.7,385.2 547.6,385.1 C549.7,385.0 553.5,395.7 555.3,402.2 C557.4,409.9 557.6,419.4 558.4,428.5 C559.2,438.4 559.2,448.9 560.0,459.5 C560.8,470.6 562.0,482.0 563.1,493.6 C564.2,505.5 565.4,521.2 566.5,530.0 C567.2,535.1 567.7,537.6 568.5,542.0 C569.5,547.6 570.8,554.6 572.4,561.0 C574.1,567.7 575.0,575.9 578.6,581.2 C581.9,586.0 587.7,589.7 592.5,592.0 C596.6,594.0 600.8,594.7 605.0,595.1 C609.1,595.5 612.6,594.0 617.3,594.3 C623.5,594.7 633.0,596.8 639.0,598.2 C643.3,599.2 646.1,601.0 649.9,601.3 C653.9,601.6 658.7,601.5 662.3,599.8 C666.0,598.0 668.2,594.0 671.6,590.5 C675.8,586.0 682.3,580.1 685.5,575.0 C688.0,571.0 688.2,563.5 690.2,563.3 C692.3,563.1 695.2,575.0 698.0,575.0 C701.3,575.0 704.9,561.3 708.8,557.9 C711.5,555.6 714.6,553.4 717.3,554.0 C720.4,554.7 722.3,560.6 725.9,563.7 C730.4,567.6 737.7,572.1 742.9,574.6 C746.8,576.5 749.8,576.7 753.8,578.4 C758.9,580.6 764.8,584.5 770.8,587.0 C777.2,589.7 784.0,591.9 791.0,594.0 C798.4,596.3 806.8,599.6 814.2,600.2 C820.7,600.8 826.5,600.1 832.8,598.6 C839.9,596.9 847.7,592.7 854.5,590.1 C860.5,587.8 865.9,586.4 871.6,583.9 C877.7,581.3 884.7,576.5 890.2,574.6 C894.2,573.2 897.8,571.8 901.0,572.2 C903.9,572.6 905.9,574.8 908.8,576.1 C912.4,577.6 916.7,578.4 921.2,580.5 C927.2,583.3 934.8,588.2 941.4,592.1 C947.8,595.9 953.6,600.6 960.0,603.7 C966.1,606.7 973.4,608.5 978.6,610.7 C982.5,612.3 985.0,613.9 988.6,615.3 C992.6,616.8 997.2,617.3 1001.8,619.2 C1007.2,621.5 1014.2,625.4 1018.9,628.5 C1022.6,630.9 1024.9,633.6 1028.2,635.5 C1031.6,637.5 1035.1,638.0 1039.0,640.2 C1044.2,643.2 1051.1,649.8 1056.1,652.6 C1059.5,654.5 1062.1,655.0 1065.4,656.4 C1069.2,658.0 1073.7,660.0 1077.8,661.9 C1082.0,663.9 1085.8,666.8 1090.2,668.1 C1094.6,669.4 1099.4,668.8 1104.0,669.5 C1108.7,670.2 1113.5,671.2 1118.0,672.5 C1122.5,673.7 1127.1,675.7 1131.0,677.0 C1134.2,678.1 1136.2,679.0 1139.8,679.8 C1145.4,681.0 1154.6,682.7 1161.5,682.2 C1168.0,681.8 1174.7,680.1 1180.1,677.5 C1184.9,675.2 1188.2,668.1 1192.5,668.2 C1197.4,668.3 1202.0,678.2 1208.0,680.6 C1214.3,683.1 1222.5,682.8 1229.7,682.2 C1237.0,681.6 1244.5,678.7 1251.4,676.7 C1257.9,674.8 1264.3,673.6 1270.0,670.5 C1275.7,667.4 1280.4,661.9 1285.5,658.1 C1290.4,654.5 1295.3,650.2 1300.0,648.0 C1303.8,646.2 1308.4,647.3 1311.0,645.0 C1313.7,642.6 1314.3,638.0 1315.4,633.3 C1316.9,626.9 1317.1,617.4 1318.0,609.6 C1318.8,602.1 1318.9,593.8 1320.5,587.6 C1321.7,582.7 1323.0,575.7 1325.6,575.0 C1328.1,574.3 1332.8,583.2 1335.7,582.6 C1338.9,581.9 1340.7,569.0 1343.3,569.0 C1346.3,569.0 1350.2,579.7 1352.6,586.0 C1355.2,593.1 1356.1,602.0 1357.7,609.6 C1359.2,616.6 1360.7,622.5 1362.0,629.9 C1363.6,638.6 1364.6,650.4 1366.2,658.7 C1367.5,665.1 1368.6,669.6 1370.4,675.6 C1372.4,682.5 1374.3,691.7 1378.0,697.6 C1381.1,702.6 1385.9,705.7 1389.9,709.4 C1393.8,713.0 1397.7,716.5 1401.7,719.6 C1405.6,722.6 1410.1,725.7 1413.5,728.0 C1416.0,729.7 1417.3,730.3 1420.0,732.2 C1424.9,735.5 1433.4,742.5 1440.3,746.6 C1446.9,750.6 1453.8,753.7 1460.6,756.7 C1467.3,759.6 1473.8,762.1 1480.9,764.3 C1488.4,766.7 1496.8,768.9 1504.6,770.3 C1512.0,771.7 1519.1,771.8 1526.6,772.8 C1534.4,773.8 1542.6,774.9 1550.3,776.2 C1557.8,777.5 1565.3,779.3 1572.3,780.4 C1578.5,781.4 1582.6,781.7 1590.0,782.6 C1602.3,784.1 1623.2,786.6 1639.1,788.5 C1654.1,790.3 1668.2,791.9 1683.0,793.6 C1698.1,795.3 1714.6,797.0 1728.7,798.7 C1740.8,800.1 1756.9,802.2 1762.6,802.9" fill="none" stroke="#b41c30" stroke-width="3.5" stroke-linejoin="round" stroke-linecap="butt" stroke-dasharray="23 8.5 5 9"/>
<path d="M337.8,523.8 C339.7,523.9 345.1,523.9 349.0,524.5 C353.4,525.2 358.4,526.4 363.0,528.0 C367.8,529.6 372.6,532.2 377.3,534.3 C382.0,536.4 386.9,539.1 391.4,540.7 C395.3,542.1 398.6,543.5 402.7,543.5 C407.4,543.5 414.7,543.3 418.0,540.0 C421.7,536.3 421.2,529.1 422.4,521.0 C424.4,507.3 424.9,483.1 426.0,464.6 C427.0,446.7 427.3,411.8 428.7,411.7 C429.7,411.7 431.3,426.2 432.3,436.0 C433.8,450.9 433.9,476.7 435.0,492.8 C435.8,504.7 434.7,522.7 437.9,523.8 C439.9,524.5 443.5,515.2 446.3,515.3 C449.2,515.4 452.7,525.6 454.8,525.0 C457.7,524.2 457.6,509.9 459.0,499.8 C461.1,484.9 463.3,444.1 465.4,444.1 C467.1,444.1 468.7,467.5 470.3,478.7 C471.8,489.3 473.0,500.2 474.5,509.7 C475.8,517.8 476.1,527.9 478.8,532.2 C480.3,534.6 482.3,536.1 484.4,536.4 C486.5,536.7 489.3,535.4 491.4,533.6 C494.3,531.1 496.3,526.4 498.5,521.0 C501.9,512.6 504.6,497.8 507.0,487.0 C509.2,477.2 509.2,462.4 512.6,459.0 C514.1,457.5 516.3,458.3 518.0,458.0 C519.6,457.8 521.5,458.3 522.5,457.5 C523.6,456.7 523.7,455.3 524.3,453.3 C525.6,448.5 526.4,437.2 527.4,428.5 C528.5,418.7 529.5,408.4 530.5,397.5 C531.6,385.3 532.8,371.1 533.6,358.8 C534.3,347.5 534.5,338.6 535.1,326.4 C535.9,310.5 537.0,289.8 537.9,271.5 C538.8,253.2 539.8,234.8 540.6,216.5 C541.4,198.2 541.8,180.0 542.5,161.6 C543.2,143.1 543.6,117.7 544.8,106.0 C545.4,100.5 545.6,96.9 546.8,94.0 C547.6,92.0 548.9,89.5 550.0,89.5 C551.1,89.5 552.6,92.0 553.4,94.0 C554.6,96.9 554.5,100.5 555.0,106.0 C556.0,117.7 556.4,143.1 557.1,161.6 C557.8,180.0 558.2,198.2 559.0,216.5 C559.8,234.8 560.8,253.2 561.7,271.5 C562.5,289.8 563.3,309.5 564.1,326.4 C564.8,340.8 565.5,353.2 566.2,366.5 C566.9,379.5 567.7,393.1 568.5,405.3 C569.2,416.2 569.8,426.7 570.8,436.3 C571.7,444.6 572.9,451.8 573.9,459.5 C574.9,467.3 575.7,475.1 577.0,482.8 C578.3,490.6 579.8,498.7 581.7,506.0 C583.5,512.6 584.8,520.1 587.9,524.7 C590.3,528.3 593.9,530.0 597.2,532.4 C600.6,534.9 604.4,536.6 608.0,539.3 C612.1,542.4 616.0,546.6 620.4,550.2 C625.2,554.1 630.1,559.7 635.9,561.8 C641.5,563.8 649.1,564.0 654.5,562.6 C659.3,561.3 663.1,558.3 667.0,554.8 C671.5,550.8 676.3,545.4 679.3,539.3 C682.7,532.5 682.8,521.3 685.5,515.3 C687.3,511.3 689.3,506.1 691.7,506.0 C694.4,505.8 698.3,517.3 701.0,516.9 C704.1,516.5 706.0,500.0 708.8,499.8 C711.2,499.6 714.1,508.1 716.5,512.2 C718.7,516.0 720.2,519.4 722.8,523.4 C726.1,528.6 730.1,535.9 735.2,540.5 C740.4,545.2 747.1,548.5 753.8,551.3 C760.9,554.3 769.2,556.1 777.0,557.5 C784.7,558.9 792.5,559.5 800.3,559.8 C808.0,560.1 815.9,560.9 823.5,559.1 C831.5,557.2 838.8,551.3 846.8,548.2 C854.8,545.1 863.7,540.1 871.6,540.5 C879.2,540.9 886.0,546.5 893.3,549.8 C901.0,553.2 909.7,558.3 916.6,560.6 C921.7,562.3 925.6,562.0 930.5,563.4 C936.3,565.1 943.1,567.8 949.1,570.4 C955.0,573.0 960.3,576.7 966.2,578.9 C972.2,581.1 978.7,582.7 984.8,583.6 C990.6,584.4 995.8,583.4 1001.8,584.3 C1008.6,585.3 1016.9,588.3 1023.5,589.8 C1029.1,591.1 1033.6,591.7 1039.0,592.9 C1044.9,594.2 1051.4,596.5 1057.6,597.5 C1063.8,598.5 1070.0,598.1 1076.2,599.1 C1082.4,600.1 1088.7,603.6 1094.8,603.7 C1100.6,603.8 1105.5,600.4 1111.9,599.8 C1119.7,599.0 1130.8,602.0 1138.3,600.5 C1144.3,599.3 1149.8,596.8 1153.8,593.5 C1157.3,590.6 1159.1,585.4 1161.5,582.6 C1163.2,580.6 1164.3,578.4 1166.2,578.0 C1168.3,577.6 1171.6,581.6 1173.9,581.1 C1176.3,580.6 1178.2,577.8 1180.1,574.9 C1183.0,570.5 1185.1,556.7 1187.9,556.3 C1189.9,556.0 1192.1,560.7 1194.1,564.0 C1196.9,568.7 1198.6,579.5 1201.8,582.6 C1203.7,584.4 1205.4,584.6 1208.0,585.0 C1212.0,585.6 1218.4,585.3 1223.5,584.2 C1228.8,583.0 1233.6,580.4 1239.0,578.0 C1245.0,575.3 1252.2,572.3 1257.6,568.7 C1262.4,565.5 1266.8,561.9 1270.0,557.8 C1272.9,554.1 1274.4,549.8 1276.2,545.4 C1278.1,540.6 1279.4,535.4 1280.9,529.9 C1282.6,523.7 1283.7,516.6 1285.5,509.8 C1287.3,502.6 1288.8,492.6 1291.8,487.9 C1293.7,484.9 1296.2,481.9 1298.5,482.0 C1301.2,482.1 1304.8,491.8 1307.0,491.3 C1309.6,490.7 1310.8,480.9 1312.1,474.3 C1313.9,465.4 1314.4,453.6 1315.4,442.2 C1316.6,429.1 1317.8,414.0 1318.8,399.9 C1319.8,385.8 1320.5,371.4 1321.4,357.6 C1322.2,344.4 1322.4,326.6 1323.9,318.7 C1324.6,315.1 1325.5,311.1 1326.4,311.1 C1327.7,311.2 1328.9,324.3 1330.7,328.9 C1331.9,332.1 1333.2,336.3 1334.9,336.5 C1337.0,336.7 1340.4,326.9 1342.5,327.2 C1344.7,327.5 1346.3,334.1 1347.6,339.0 C1349.5,346.1 1350.2,356.9 1351.0,366.1 C1351.9,375.5 1351.8,385.2 1352.6,394.9 C1353.4,404.9 1354.8,415.6 1356.0,425.3 C1357.1,434.2 1358.3,441.6 1359.4,450.7 C1360.6,461.2 1361.7,472.8 1362.8,484.5 C1363.9,497.1 1364.9,512.6 1366.0,524.0 C1366.8,532.7 1367.6,539.3 1368.5,547.0 C1369.4,554.8 1370.0,562.7 1371.5,570.7 C1373.1,579.1 1375.5,588.3 1377.8,596.1 C1379.8,602.9 1381.7,608.8 1384.2,615.1 C1386.8,621.5 1389.7,627.5 1393.0,634.1 C1396.7,641.4 1400.7,649.5 1405.7,657.0 C1411.1,665.1 1418.9,674.3 1424.7,681.0 C1429.1,686.1 1432.5,689.5 1436.9,694.1 C1442.0,699.4 1447.9,706.2 1453.8,711.1 C1459.3,715.7 1464.7,719.4 1470.8,722.9 C1477.1,726.5 1484.1,729.4 1491.1,732.2 C1498.2,735.0 1505.4,737.3 1513.0,739.8 C1521.1,742.4 1529.9,744.9 1538.4,747.4 C1546.9,749.9 1555.2,752.8 1563.8,755.0 C1572.4,757.2 1580.8,758.2 1590.0,760.6 C1600.6,763.3 1612.5,768.0 1623.8,770.8 C1635.0,773.6 1646.4,775.1 1657.7,777.5 C1669.0,779.9 1680.2,782.6 1691.5,785.1 C1702.8,787.6 1713.6,790.1 1725.3,792.7 C1737.8,795.5 1757.8,799.8 1764.3,801.2" fill="none" stroke="#c8102a" stroke-width="3.5" stroke-linejoin="round" stroke-linecap="butt"/>
<path d="M335.5,54.5 V1206 H1766" fill="none" stroke="#000" stroke-width="3.5"/>
<path d="M313,56 H335.5 M324,113.5 H335.5 M313,171 H335.5 M324,228.5 H335.5 M313,286 H335.5 M324,343.5 H335.5 M313,401 H335.5 M324,458.5 H335.5 M313,516 H335.5 M324,573.5 H335.5 M313,631 H335.5 M324,688.5 H335.5 M313,746 H335.5 M324,803.5 H335.5 M313,861 H335.5 M324,918.5 H335.5 M313,976 H335.5 M324,1033.5 H335.5 M313,1091 H335.5 M324,1148.5 H335.5 M433.0,1206 V1228 M588.9,1206 V1228 M744.8,1206 V1228 M900.7,1206 V1228 M1056.6,1206 V1228 M1212.5,1206 V1228 M1368.4,1206 V1228 M1524.3,1206 V1228 M1680.2,1206 V1228 M355.1,1206 V1218 M510.9,1206 V1218 M666.9,1206 V1218 M822.8,1206 V1218 M978.6,1206 V1218 M1134.5,1206 V1218 M1290.4,1206 V1218 M1446.3,1206 V1218 M1602.2,1206 V1218 M1758.1,1206 V1218" fill="none" stroke="#000" stroke-width="3.5"/>
<text x="133.2 160.6 188.0 206.9 215.4 242.8 270.2" y="69.3" font-family="'Liberation Sans', Arial, sans-serif" font-size="49.5" fill="#000" clip-path="url(#nofoot)">100,000</text>
<text x="160.6 188.0 206.9 215.4 242.8 270.2" y="186.8" font-family="'Liberation Sans', Arial, sans-serif" font-size="49.5" fill="#000" clip-path="url(#nofoot)">90,000</text>
<text x="160.6 188.0 206.9 215.4 242.8 270.2" y="301.8" font-family="'Liberation Sans', Arial, sans-serif" font-size="49.5" fill="#000" clip-path="url(#nofoot)">80,000</text>
<text x="160.6 188.0 206.9 215.4 242.8 270.2" y="415.3" font-family="'Liberation Sans', Arial, sans-serif" font-size="49.5" fill="#000" clip-path="url(#nofoot)">70,000</text>
<text x="160.6 188.0 206.9 215.4 242.8 270.2" y="531.8" font-family="'Liberation Sans', Arial, sans-serif" font-size="49.5" fill="#000" clip-path="url(#nofoot)">60,000</text>
<text x="160.6 188.0 206.9 215.4 242.8 270.2" y="646.8" font-family="'Liberation Sans', Arial, sans-serif" font-size="49.5" fill="#000" clip-path="url(#nofoot)">50,000</text>
<text x="160.6 188.0 206.9 215.4 242.8 270.2" y="761.8" font-family="'Liberation Sans', Arial, sans-serif" font-size="49.5" fill="#000" clip-path="url(#nofoot)">40,000</text>
<text x="160.6 188.0 206.9 215.4 242.8 270.2" y="876.8" font-family="'Liberation Sans', Arial, sans-serif" font-size="49.5" fill="#000" clip-path="url(#nofoot)">30,000</text>
<text x="160.6 188.0 206.9 215.4 242.8 270.2" y="991.8" font-family="'Liberation Sans', Arial, sans-serif" font-size="49.5" fill="#000" clip-path="url(#nofoot)">20,000</text>
<text x="160.6 188.0 206.9 215.4 242.8 270.2" y="1106.8" font-family="'Liberation Sans', Arial, sans-serif" font-size="49.5" fill="#000" clip-path="url(#nofoot)">10,000</text>
<text x="378.4 405.8 433.2 460.6" y="1283" font-family="'Liberation Sans', Arial, sans-serif" font-size="49.5" fill="#000" clip-path="url(#nofoot)">1000</text>
<text x="534.3 561.7 589.1 616.5" y="1283" font-family="'Liberation Sans', Arial, sans-serif" font-size="49.5" fill="#000" clip-path="url(#nofoot)">1100</text>
<text x="690.2 717.6 745.0 772.4" y="1283" font-family="'Liberation Sans', Arial, sans-serif" font-size="49.5" fill="#000" clip-path="url(#nofoot)">1200</text>
<text x="846.1 873.5 900.9 928.3" y="1283" font-family="'Liberation Sans', Arial, sans-serif" font-size="49.5" fill="#000" clip-path="url(#nofoot)">1300</text>
<text x="1002.0 1029.4 1056.8 1084.2" y="1283" font-family="'Liberation Sans', Arial, sans-serif" font-size="49.5" fill="#000" clip-path="url(#nofoot)">1400</text>
<text x="1157.9 1185.3 1212.7 1240.1" y="1283" font-family="'Liberation Sans', Arial, sans-serif" font-size="49.5" fill="#000" clip-path="url(#nofoot)">1500</text>
<text x="1313.8 1341.2 1368.6 1396.0" y="1283" font-family="'Liberation Sans', Arial, sans-serif" font-size="49.5" fill="#000" clip-path="url(#nofoot)">1600</text>
<text x="1469.7 1497.1 1524.5 1551.9" y="1283" font-family="'Liberation Sans', Arial, sans-serif" font-size="49.5" fill="#000" clip-path="url(#nofoot)">1700</text>
<text x="1625.6 1653.0 1680.4 1707.8" y="1283" font-family="'Liberation Sans', Arial, sans-serif" font-size="49.5" fill="#000" clip-path="url(#nofoot)">1800</text>
<text x="804" y="1381" font-family="'Liberation Sans', Arial, sans-serif" font-size="60" fill="#000">Raman shift (cm</text>
<text x="1234.5" y="1361" font-family="'Liberation Sans', Arial, sans-serif" font-size="43" fill="#000">&#8722;</text>
<text x="1251.8" y="1356.5" font-family="'Liberation Sans', Arial, sans-serif" font-size="40" fill="#000" clip-path="url(#nofoot)">1</text>
<text x="1275.5" y="1381" font-family="'Liberation Sans', Arial, sans-serif" font-size="60" fill="#000">)</text>
<text transform="translate(68.5,781) rotate(-90)" x="0" y="0" font-family="'Liberation Sans', Arial, sans-serif" font-size="60" fill="#000">Intensity (a.u.)</text>
<line x1="1400.5" y1="110.6" x2="1536" y2="110.6" stroke="#c8102a" stroke-width="4" stroke-dasharray="21.5 16.5"/>
<text x="1551" y="129.5" font-family="'Liberation Sans', Arial, sans-serif" font-size="60" fill="#c8102a" clip-path="url(#nofoot)">1 shot 633 nm</text>
<line x1="1400.5" y1="182.8" x2="1532" y2="182.8" stroke="#a02030" stroke-width="4" stroke-dasharray="4 17"/>
<text x="1551" y="201.9" font-family="'Liberation Sans', Arial, sans-serif" font-size="60" fill="#c8102a">2 shots 633 nm</text>
<line x1="1401.5" y1="255.0" x2="1530" y2="255.0" stroke="#a82030" stroke-width="4" stroke-dasharray="23 8.5 5 9"/>
<text x="1551" y="274.4" font-family="'Liberation Sans', Arial, sans-serif" font-size="60" fill="#c8102a">3 shots 633 nm</text>
<line x1="1400.5" y1="327.2" x2="1536" y2="327.2" stroke="#c8102a" stroke-width="4"/>
<text x="1551" y="346.9" font-family="'Liberation Sans', Arial, sans-serif" font-size="60" fill="#c8102a">4 shots 633 nm</text>
<line x1="1402.5" y1="399.4" x2="1531" y2="399.4" stroke="#22702b" stroke-width="3.2" stroke-dasharray="16 11.5"/>
<text x="1551" y="419.3" font-family="'Liberation Sans', Arial, sans-serif" font-size="60" fill="#22702b" clip-path="url(#nofoot)">1 shot 532 nm</text>
<line x1="1402.5" y1="471.6" x2="1528" y2="471.6" stroke="#22702b" stroke-width="3.2" stroke-dasharray="5 11.5"/>
<text x="1551" y="491.8" font-family="'Liberation Sans', Arial, sans-serif" font-size="60" fill="#22702b">2 shots 532 nm</text>
<line x1="1402.5" y1="543.8" x2="1536" y2="543.8" stroke="#22702b" stroke-width="3.2" stroke-dasharray="9 4"/>
<text x="1551" y="564.2" font-family="'Liberation Sans', Arial, sans-serif" font-size="60" fill="#22702b">3 shots 532 nm</text>
<line x1="1402.5" y1="616.0" x2="1536" y2="616.0" stroke="#22702b" stroke-width="3.2"/>
<text x="1551" y="636.7" font-family="'Liberation Sans', Arial, sans-serif" font-size="60" fill="#22702b">4 shots 532 nm</text>
<defs><clipPath id="nofoot" clipPathUnits="userSpaceOnUse"><path clip-rule="evenodd" d="M0,0H1983V1419H0Z M136.3,64.0H145.6V70.8H136.3Z M150.0,64.0H159.2V70.8H150.0Z M163.7,1101.5H173.0V1108.3H163.7Z M177.4,1101.5H186.6V1108.3H177.4Z M381.5,1277.7H390.8V1284.5H381.5Z M395.2,1277.7H404.4V1284.5H395.2Z M537.4,1277.7H546.7V1284.5H537.4Z M551.1,1277.7H560.3V1284.5H551.1Z M564.8,1277.7H574.1V1284.5H564.8Z M578.5,1277.7H587.7V1284.5H578.5Z M693.3,1277.7H702.6V1284.5H693.3Z M707.0,1277.7H716.2V1284.5H707.0Z M849.2,1277.7H858.5V1284.5H849.2Z M862.9,1277.7H872.1V1284.5H862.9Z M1005.1,1277.7H1014.4V1284.5H1005.1Z M1018.8,1277.7H1028.0V1284.5H1018.8Z M1161.0,1277.7H1170.3V1284.5H1161.0Z M1174.7,1277.7H1183.9V1284.5H1174.7Z M1316.9,1277.7H1326.2V1284.5H1316.9Z M1330.6,1277.7H1339.8V1284.5H1330.6Z M1472.8,1277.7H1482.1V1284.5H1472.8Z M1486.5,1277.7H1495.7V1284.5H1486.5Z M1628.7,1277.7H1638.0V1284.5H1628.7Z M1642.4,1277.7H1651.6V1284.5H1642.4Z M1254.3,1351.9H1261.9V1358.0H1254.3Z M1265.4,1351.9H1272.8V1358.0H1265.4Z M1554.8,123.4H1566.1V131.0H1554.8Z M1571.4,123.4H1582.5V131.0H1571.4Z M1554.8,413.2H1566.1V420.8H1554.8Z M1571.4,413.2H1582.5V420.8H1571.4Z"/></clipPath></defs>
</svg>
</body></html>
